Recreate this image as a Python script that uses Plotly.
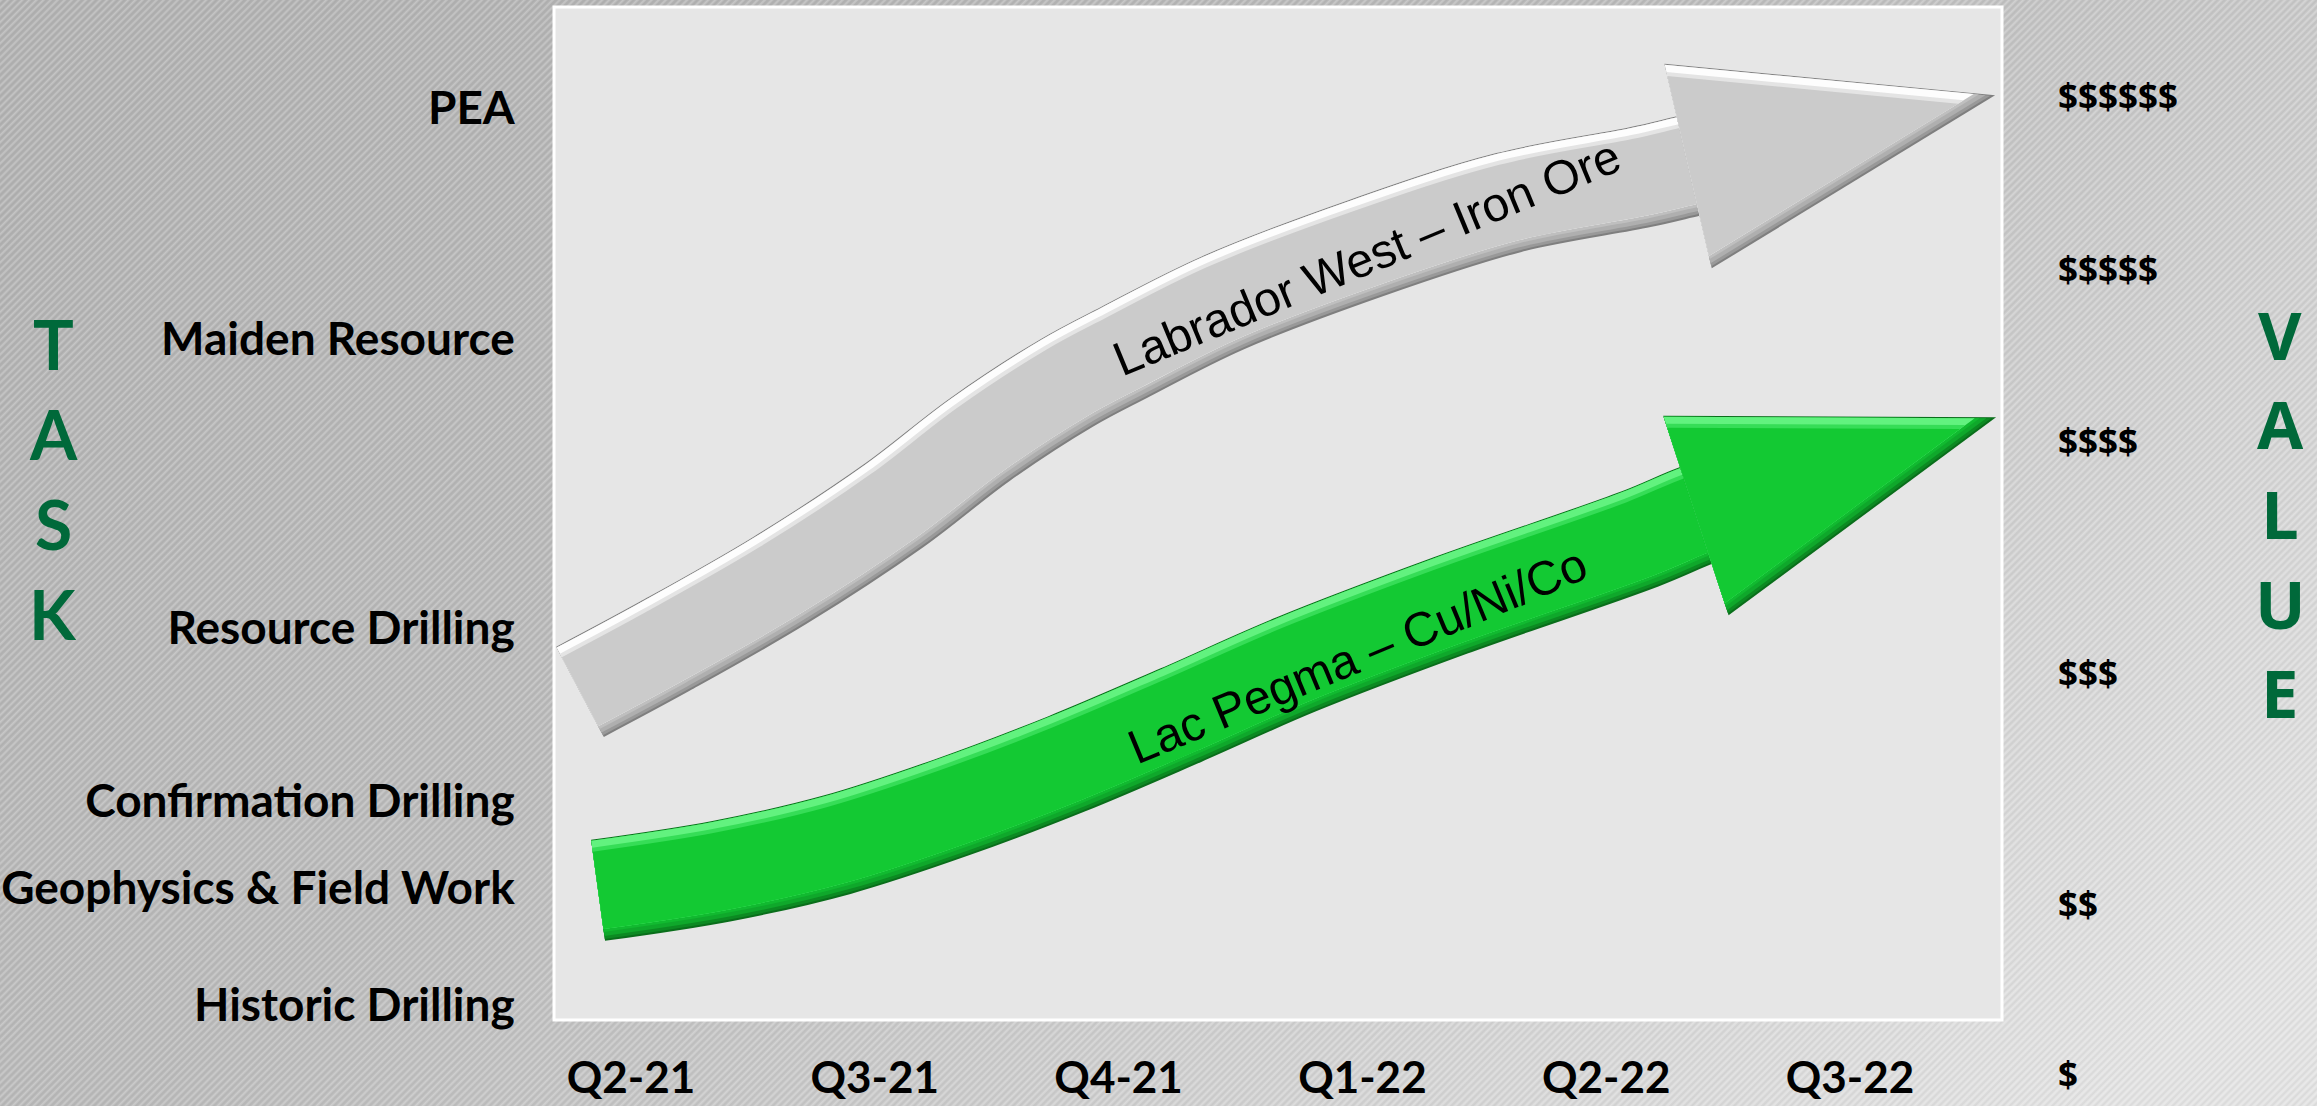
import base64
import math
import plotly.graph_objects as go

# ---------------- data ----------------
quarters = ["Q2-21", "Q3-21", "Q4-21", "Q1-22", "Q2-22", "Q3-22"]
quarter_pos = [0, 1, 2, 3, 4, 5]

task_labels = ["Historic Drilling", "Geophysics & Field Work", "Confirmation Drilling",
               "Resource Drilling", "Maiden Resource", "PEA"]
task_levels = [1.5, 13.0, 21.6, 38.7, 67.2, 90.0]

value_labels = ["$", "$$", "$$$", "$$$$", "$$$$$", "$$$$$$"]
value_levels = [-5.3, 11.5, 34.3, 57.2, 74.2, 91.3]

# project progress paths (quarter position, task level) and arrow tips
labrador_name = "Labrador West – Iron Ore"
labrador_q = [-0.209, 0.139, 0.611, 1.079, 1.431, 1.788, 2.022, 2.428, 3.015, 3.601, 4.139, 4.336]
labrador_y = [32.4, 36.9, 43.4, 50.8, 57.3, 62.9, 65.9, 70.8, 76.2, 80.7, 83.2, 84.3]
labrador_tip = (5.595, 91.3)

pegma_name = "Lac Pegma – Cu/Ni/Co"
pegma_q = [-0.135, 0.373, 0.845, 1.317, 1.788, 2.256, 2.728, 3.359, 4.139, 4.368]
pegma_y = [12.8, 14.7, 17.3, 21.0, 25.3, 30.1, 35.1, 40.9, 47.5, 49.8]
pegma_tip = (5.599, 59.5)

# ---------------- layout geometry ----------------
FIG_W, FIG_H = 2317, 1106
M_L, M_R, M_T, M_B = 554, 315, 7, 86
PW, PH = FIG_W - M_L - M_R, FIG_H - M_T - M_B
X_RANGE = [-0.3158, 5.6234]
Y_RANGE = [0, 100]


def to_px(q, y):
    px = M_L + (q - X_RANGE[0]) / (X_RANGE[1] - X_RANGE[0]) * PW
    py = M_T + PH - (y - Y_RANGE[0]) / (Y_RANGE[1] - Y_RANGE[0]) * PH
    return px, py


def to_data(px, py):
    q = X_RANGE[0] + (px - M_L) / PW * (X_RANGE[1] - X_RANGE[0])
    y = Y_RANGE[0] + (M_T + PH - py) / PH * (Y_RANGE[1] - Y_RANGE[0])
    return q, y


def paper_x(px):
    return (px - M_L) / PW


def paper_y(py):
    return (M_T + PH - py) / PH


def level_to_paper(v):
    return (v - Y_RANGE[0]) / (Y_RANGE[1] - Y_RANGE[0])


def unit(vx, vy):
    n = math.hypot(vx, vy)
    return vx / n, vy / n


def offset_path(pts, s):
    """Shift a pixel path by s along its upward normal."""
    out = []
    for i in range(len(pts)):
        a = pts[max(i - 1, 0)]
        b = pts[min(i + 1, len(pts) - 1)]
        dx, dy = unit(b[0] - a[0], b[1] - a[1])
        nx, ny = dy, -dx
        out.append((pts[i][0] + s * nx, pts[i][1] + s * ny))
    return out


def line_intersect(p, d, r, e):
    den = d[0] * e[1] - d[1] * e[0]
    t = ((r[0] - p[0]) * e[1] - (r[1] - p[1]) * e[0]) / den
    return p[0] + t * d[0], p[1] + t * d[1]


def inset_triangle(P, insets):
    cx = sum(p[0] for p in P) / 3
    cy = sum(p[1] for p in P) / 3
    lines = []
    for k in range(3):
        a, b = P[k], P[(k + 1) % 3]
        d = (b[0] - a[0], b[1] - a[1])
        nx, ny = unit(-d[1], d[0])
        if (cx - a[0]) * nx + (cy - a[1]) * ny < 0:
            nx, ny = -nx, -ny
        lines.append(((a[0] + insets[k] * nx, a[1] + insets[k] * ny), d))
    out = []
    for k in range(3):
        p1, d1 = lines[k - 1]
        p2, d2 = lines[k]
        out.append(line_intersect(p1, d1, p2, d2))
    return out


SHAFT_W = 102
HEAD_HALF = 105

# bevel bands: (top inset, bottom inset) measured from the shaft edges
BANDS = [(0, 0), (1, 2), (1, 5), (1, 9), (1, 12), (8, 12), (12, 12)]

fig = go.Figure()


def add_arrow(qs, ys, tip, palette):
    pts = [to_px(q, y) for q, y in zip(qs, ys)]
    base = pts[-1]
    tip_px = to_px(*tip)
    hx, hy = unit(tip_px[0] - base[0], tip_px[1] - base[1])
    # run the shaft on into the head so the joint stays closed
    shaft = pts + [(base[0] + 40 * hx, base[1] + 40 * hy)]

    for (top, bot), color in zip(BANDS, palette):
        width = SHAFT_W - top - bot
        shift = (bot - top) / 2
        path = [to_data(*p) for p in offset_path(shaft, shift)]
        fig.add_trace(go.Scatter(
            x=[p[0] for p in path], y=[p[1] for p in path], mode="lines",
            line=dict(shape="spline", smoothing=1.0, width=width, color=color),
            hoverinfo="skip", showlegend=False))

    nx, ny = hy, -hx
    tri = [(base[0] + HEAD_HALF * nx, base[1] + HEAD_HALF * ny),
           tip_px,
           (base[0] - HEAD_HALF * nx, base[1] - HEAD_HALF * ny)]
    for (top, bot), color in zip(BANDS, palette):
        poly = [to_data(*p) for p in inset_triangle(tri, (top, bot, 0))]
        fig.add_trace(go.Scatter(
            x=[p[0] for p in poly], y=[p[1] for p in poly], mode="lines",
            fill="toself", fillcolor=color, line=dict(width=0, color=color),
            hoverinfo="skip", showlegend=False))


add_arrow(labrador_q, labrador_y, labrador_tip,
          ["#7f7f7f", "#999999", "#afafaf", "#bfbfbf", "#fdfdfd", "#e4e4e4", "#cbcbcb"])
add_arrow(pegma_q, pegma_y, pegma_tip,
          ["#0a6e1b", "#0c8a22", "#0fa82b", "#11ba30", "#62f27f", "#36dd57", "#13c933"])

annotations = []

# project names along the arrows
for name, (q, y), ang in [(labrador_name, (3.018, 75.3), -22.5),
                          (pegma_name, (2.98, 36.0), -22.5)]:
    annotations.append(dict(
        x=q, y=y, xref="x", yref="y", text=name, showarrow=False, textangle=ang,
        xanchor="center", yanchor="middle",
        font=dict(family="Liberation Sans, Arial, sans-serif", size=48, color="#000000")))

# value scale on the right
for lab, lvl in zip(value_labels, value_levels):
    annotations.append(dict(
        x=paper_x(2056), y=level_to_paper(lvl), xref="paper", yref="paper", text=lab,
        showarrow=False, xanchor="left", yanchor="middle",
        font=dict(family="Open Sans, DejaVu Sans, sans-serif", size=35, color="#000000", weight="bold")))

# stacked side titles
GREEN = "#00693a"
for i, ch in enumerate("TASK"):
    annotations.append(dict(
        x=paper_x(53), y=paper_y(344 + i * 89.7), xref="paper", yref="paper", text=ch,
        showarrow=False, xanchor="center", yanchor="middle",
        font=dict(family="Lato, Open Sans, sans-serif", size=68, color=GREEN, weight="bold")))
for i, ch in enumerate("VALUE"):
    annotations.append(dict(
        x=paper_x(2280), y=paper_y(334 + i * 89.5), xref="paper", yref="paper", text=ch,
        showarrow=False, xanchor="center", yanchor="middle",
        font=dict(family="Open Sans, DejaVu Sans, sans-serif", size=67, color=GREEN, weight="bold")))

# hatched grey backdrop
svg = (
    f'<svg xmlns="http://www.w3.org/2000/svg" width="{FIG_W}" height="{FIG_H}" '
    f'viewBox="0 0 {FIG_W} {FIG_H}" preserveAspectRatio="none">'
    '<defs>'
    '<linearGradient id="shade" x1="0" y1="0.2" x2="1" y2="0.85">'
    '<stop offset="0" stop-color="#b3b3b3"/>'
    '<stop offset="0.4" stop-color="#bbbbbb"/>'
    '<stop offset="1" stop-color="#e3e3e3"/>'
    '</linearGradient>'
    '<pattern id="hatch" width="5" height="5" patternUnits="userSpaceOnUse" patternTransform="rotate(45)">'
    '<rect x="0" y="0" width="1.6" height="5" fill="#ffffff" fill-opacity="0.22"/>'
    '<rect x="2.5" y="0" width="1.2" height="5" fill="#000000" fill-opacity="0.05"/>'
    '</pattern>'
    '</defs>'
    '<rect width="100%" height="100%" fill="url(#shade)"/>'
    '<rect width="100%" height="100%" fill="url(#hatch)"/>'
    '</svg>'
)
bg_src = "data:image/svg+xml;base64," + base64.b64encode(svg.encode()).decode()

fig.update_layout(
    width=FIG_W, height=FIG_H, autosize=False,
    margin=dict(l=M_L, r=M_R, t=M_T, b=M_B, pad=0, autoexpand=False),
    paper_bgcolor="#c4c4c4", plot_bgcolor="rgba(0,0,0,0)",
    showlegend=False,
    images=[dict(source=bg_src, xref="paper", yref="paper",
                 x=-M_L / PW, y=1 + M_T / PH, sizex=FIG_W / PW, sizey=FIG_H / PH,
                 xanchor="left", yanchor="top", sizing="stretch", layer="below")],
    shapes=[dict(type="rect", xref="paper", yref="paper", x0=0, x1=1, y0=0, y1=1,
                 fillcolor="#e6e6e6", line=dict(color="#ffffff", width=3), layer="below")],
    annotations=annotations,
    xaxis=dict(range=X_RANGE, tickvals=quarter_pos, ticktext=quarters, automargin=False,
               showgrid=False, zeroline=False, showline=False,
               ticks="outside", ticklen=19, tickcolor="rgba(0,0,0,0)", fixedrange=True,
               tickfont=dict(family="Liberation Sans Narrow, Lato, sans-serif", size=44,
                             color="#000000", weight="bold")),
    yaxis=dict(range=Y_RANGE, tickvals=task_levels, ticktext=task_labels, automargin=False,
               showgrid=False, zeroline=False, showline=False,
               ticks="outside", ticklen=29, tickcolor="rgba(0,0,0,0)", fixedrange=True,
               tickfont=dict(family="Lato, Open Sans, sans-serif", size=46,
                             color="#000000", weight="bold")),
)

fig.write_html("out.html", config={"displayModeBar": False})
